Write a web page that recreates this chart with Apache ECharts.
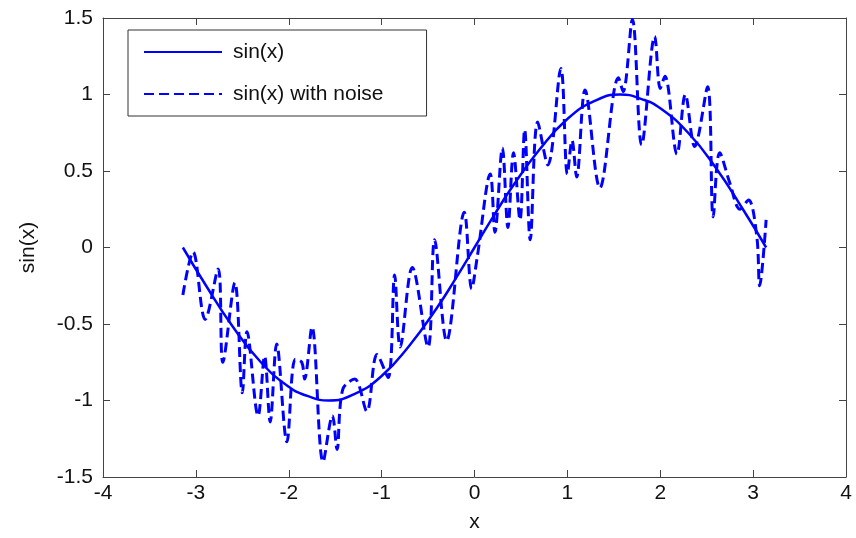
<!DOCTYPE html>
<html>
<head>
<meta charset="utf-8">
<script src="https://cdn.jsdelivr.net/npm/echarts@6/dist/echarts.min.js"></script>
<style>
html,body{margin:0;padding:0;background:#fff;}
#chart{width:856px;height:538px;}
</style>
</head>
<body>
<div id="chart"></div>
<script>
// Solid curve: sin(x)
var sinX = [-3.14,-2.9,-2.6,-2.3,-2.0,-1.8,-1.57,-1.3,-1.0,-0.7,-0.4,-0.2,0,0.2,0.4,0.7,1.0,1.3,1.57,1.8,2.0,2.3,2.6,2.9,3.14];
var sinY = [0,-0.24,-0.52,-0.75,-0.91,-0.97,-1.0,-0.96,-0.84,-0.64,-0.39,-0.2,0,0.2,0.39,0.64,0.84,0.96,1.0,0.97,0.91,0.75,0.52,0.24,0];

// Noisy curve: turning points
var noiseX = [-3.14,-3.03,-2.9,-2.76,-2.71,-2.58,-2.5,-2.45,-2.33,-2.26,-2.2,-2.13,-2.02,-1.93,-1.86,-1.83,-1.75,-1.63,-1.53,-1.48,-1.42,-1.29,-1.16,-1.05,-0.93,-0.86,-0.8,-0.67,-0.5,-0.43,-0.3,-0.11,-0.03,0.03,0.17,0.22,0.3,0.36,0.42,0.49,0.54,0.6,0.68,0.79,0.93,1.0,1.05,1.1,1.19,1.35,1.55,1.6,1.7,1.8,1.94,2.0,2.05,2.18,2.27,2.37,2.51,2.57,2.64,2.75,2.86,2.95,3.04,3.07,3.14];
var noiseY = [-0.31,-0.03,-0.47,-0.14,-0.75,-0.23,-0.95,-0.55,-1.1,-0.71,-1.14,-0.63,-1.27,-0.73,-0.75,-0.86,-0.52,-1.4,-1.1,-1.32,-0.93,-0.86,-1.07,-0.7,-0.85,-0.18,-0.65,-0.13,-0.65,0.05,-0.61,0.23,-0.27,-0.06,0.48,0.1,0.65,0.13,0.62,0.18,0.77,0.05,0.82,0.54,1.17,0.48,0.7,0.46,1.03,0.39,1.11,1.02,1.49,0.67,1.38,1.04,1.12,0.61,1.0,0.66,1.05,0.2,0.62,0.42,0.25,0.31,0.07,-0.25,0.18];

var xTicks = [-4,-3,-2,-1,0,1,2,3,4];
var yTicks = [-1.5,-1,-0.5,0,0.5,1,1.5];

function pairs(xs, ys){ return xs.map(function(x,i){ return [x, ys[i]]; }); }

var FONT = 'Liberation Sans';
var axisColor = '#444';
var chart = echarts.init(document.getElementById('chart'), null, {renderer:'canvas'});

function xAx(pos, showLabel){
  return {
    type:'value', position:pos, min:xTicks[0], max:xTicks[xTicks.length-1], interval:1,
    axisLine:{show:true, onZero:false, lineStyle:{color:axisColor, width:1}},
    axisTick:{show:true, inside:true, length:7, lineStyle:{color:axisColor}},
    axisLabel:{show:showLabel, margin:6, fontFamily:FONT, fontSize:21, color:'#111'},
    splitLine:{show:false},
    name: showLabel ? 'x' : '', nameLocation:'middle', nameGap:35,
    nameTextStyle:{fontFamily:FONT, fontSize:21, color:'#111'}
  };
}
function yAx(pos, showLabel){
  return {
    type:'value', position:pos, min:yTicks[0], max:yTicks[yTicks.length-1], interval:0.5,
    axisLine:{show:true, onZero:false, lineStyle:{color:axisColor, width:1}},
    axisTick:{show:true, inside:true, length:7, lineStyle:{color:axisColor}},
    axisLabel:{show:showLabel, margin:10, fontFamily:FONT, fontSize:21, color:'#111'},
    splitLine:{show:false},
    name: showLabel ? 'sin(x)' : '', nameLocation:'middle', nameGap:64, nameRotate:90,
    nameTextStyle:{fontFamily:FONT, fontSize:21, color:'#111'}
  };
}

chart.setOption({
  animation:false,
  backgroundColor:'#fff',
  grid:{left:103, right:10, top:18, bottom:60, containLabel:false},
  xAxis:[xAx('bottom', true), xAx('top', false)],
  yAxis:[yAx('left', true), yAx('right', false)],
  legend:{
    orient:'vertical', left:128, top:30,
    padding:[11, 43, 11, 15],
    backgroundColor:'#fff', borderColor:'#333', borderWidth:1,
    itemWidth:78, itemHeight:14, itemGap:20,
    itemStyle:{opacity:0},
    textStyle:{fontFamily:FONT, fontSize:21, color:'#111', lineHeight:22, padding:[0,0,0,6]},
    data:['sin(x)','sin(x) with noise']
  },
  series:[
    {
      name:'sin(x)', type:'line', data:pairs(sinX, sinY), smooth:true,
      symbol:'none', showSymbol:false,
      lineStyle:{color:'#0000ff', width:2.5, type:'solid'},
      itemStyle:{color:'#0000ff'}, z:2
    },
    {
      name:'sin(x) with noise', type:'line', data:pairs(noiseX, noiseY), smooth:0.35,
      symbol:'none', showSymbol:false,
      lineStyle:{color:'#0000ff', width:3, type:[10,5]},
      itemStyle:{color:'#0000ff'}, z:3
    }
  ]
});
</script>
</body>
</html>
